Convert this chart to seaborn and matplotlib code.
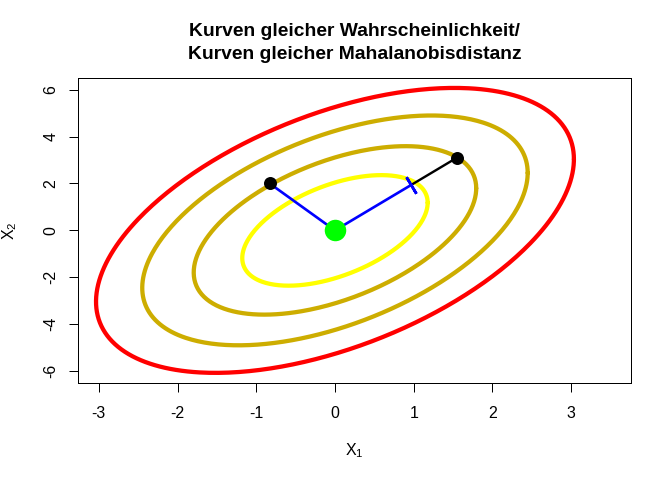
import numpy as np
import matplotlib
matplotlib.use("Agg")
import matplotlib.pyplot as plt
import seaborn as sns

# Verteilung von (X1, X2)
mu = [0.0, 0.0]
sd_x1 = 1.0
sd_x2 = 2.0
rho = 0.5

# Wahrscheinlichkeitsniveaus der Konturen (innen -> aussen)
levels = [0.5, 0.8, 0.95, 0.99]
level_colors = ["#FFFF00", "#CDAD00", "#CDAD00", "#FF0000"]

# zwei Punkte mit gleicher Mahalanobisdistanz
pt_x = [-0.83, 1.55]
pt_y = [2.0, 3.1]

x_ticks = [-3, -2, -1, 0, 1, 2, 3]
y_ticks = [-6, -4, -2, 0, 2, 4, 6]
x_range = (-3.0, 3.5)
y_range = (-6.0, 6.0)

title_lines = ["Kurven gleicher Wahrscheinlichkeit/",
               "Kurven gleicher Mahalanobisdistanz"]

sns.set_style("ticks")
plt.rcParams["font.family"] = ["Liberation Sans", "DejaVu Sans"]
plt.rcParams["mathtext.fontset"] = "custom"
plt.rcParams["mathtext.rm"] = "Liberation Sans"
plt.rcParams["mathtext.default"] = "regular"
plt.rcParams["axes.edgecolor"] = "black"
plt.rcParams["axes.labelcolor"] = "black"
plt.rcParams["text.color"] = "black"
plt.rcParams["xtick.color"] = "black"
plt.rcParams["ytick.color"] = "black"

fig = plt.figure(figsize=(7, 5), dpi=96)
ax = fig.add_axes([78.3 / 672, (480 - 382.5) / 480, 552.7 / 672, 304.2 / 480])

dx = x_range[1] - x_range[0]
dy = y_range[1] - y_range[0]
ax.set_xlim(x_range[0] - 0.04 * dx, x_range[1] + 0.04 * dx)
ax.set_ylim(y_range[0] - 0.04 * dy, y_range[1] + 0.04 * dy)

# Ellipsen aus der Kovarianzmatrix
cov = np.array([[sd_x1 ** 2, rho * sd_x1 * sd_x2],
                [rho * sd_x1 * sd_x2, sd_x2 ** 2]])
chol = np.linalg.cholesky(cov)
t = np.linspace(0, 2 * np.pi, 400)
for p, col in zip(levels, level_colors):
    r = np.sqrt(-2 * np.log(1 - p))
    xy = chol @ np.vstack([r * np.cos(t), r * np.sin(t)])
    sns.lineplot(x=xy[0] + mu[0], y=xy[1] + mu[1], sort=False, estimator=None,
                 color=col, lw=3.2, ax=ax)

# euklidische Distanz des linken Punktes, abgetragen Richtung rechter Punkt
d_left = np.hypot(pt_x[0] - mu[0], pt_y[0] - mu[1])
d_right = np.hypot(pt_x[1] - mu[0], pt_y[1] - mu[1])
end_x = mu[0] + (pt_x[1] - mu[0]) * d_left / d_right
end_y = mu[1] + (pt_y[1] - mu[1]) * d_left / d_right

sns.lineplot(x=[mu[0], pt_x[0]], y=[mu[1], pt_y[0]], color="blue", lw=2, ax=ax)
sns.lineplot(x=[mu[0], end_x], y=[mu[1], end_y], color="blue", lw=2, ax=ax)
sns.lineplot(x=[end_x, pt_x[1]], y=[end_y, pt_y[1]], color="black", lw=1.8, ax=ax)

# Querstrich am Ende (senkrecht im Bild)
p0 = ax.transData.transform((mu[0], mu[1]))
p1 = ax.transData.transform((end_x, end_y))
ang = np.degrees(np.arctan2(p1[1] - p0[1], p1[0] - p0[0]))
ax.plot([end_x], [end_y], marker=(2, 2, ang), ms=14.4, mew=2, color="blue",
        linestyle="none")

sns.scatterplot(x=pt_x, y=pt_y, color="black", s=95, linewidth=0, zorder=4, ax=ax)
sns.scatterplot(x=[mu[0]], y=[mu[1]], color="#00FF00", s=260, linewidth=0,
                zorder=4, ax=ax)

ax.set_xticks(x_ticks, [str(v) for v in x_ticks], fontsize=12)
ax.set_yticks(y_ticks, [str(v) for v in y_ticks], fontsize=12, rotation=90,
              va="center")
ax.tick_params(axis="both", length=7, width=0.75)
ax.tick_params(axis="x", pad=10.5)
ax.tick_params(axis="y", pad=8)
for s in ax.spines.values():
    s.set_linewidth(0.75)
    s.set_visible(True)

ax.set_xlabel("$X_1$", fontsize=12)
ax.set_ylabel("$X_2$", fontsize=12)
ax.xaxis.set_label_coords(0.5, -(441 - 382.5) / 304.2)
ax.yaxis.set_label_coords(-(78.3 - 19) / 552.7, 0.5)

cx = (78.3 + 552.7 / 2) / 672
fig.text(cx, 1 - 35.7 / 480, title_lines[0], ha="center", va="baseline",
         fontsize=14.4, fontweight="bold")
fig.text(cx, 1 - 59.3 / 480, title_lines[1], ha="center", va="baseline",
         fontsize=14.4, fontweight="bold")

fig.savefig("out.png", dpi=96)
